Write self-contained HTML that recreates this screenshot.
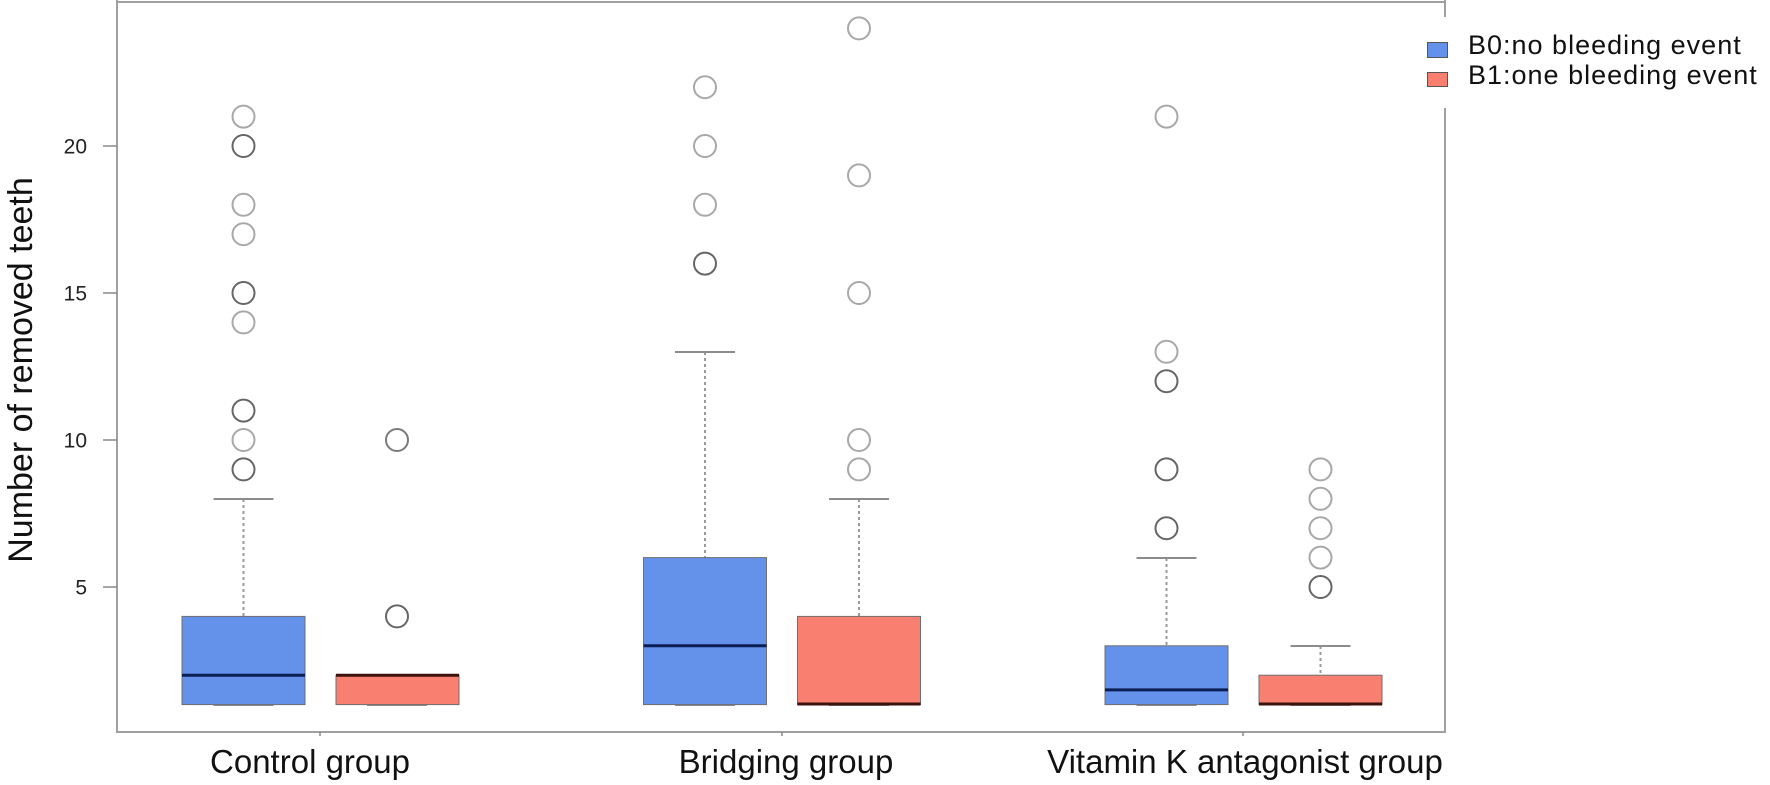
<!DOCTYPE html>
<html>
<head>
<meta charset="utf-8">
<style>
  html,body{margin:0;padding:0;background:#fff;}
  svg{display:block;}
  text{font-family:"Liberation Sans",Arial,sans-serif;}
</style>
</head>
<body>
<svg width="1770" height="785" viewBox="0 0 1770 785" xmlns="http://www.w3.org/2000/svg">
  <rect x="0" y="0" width="1770" height="785" fill="#fff"/>

  <!-- frame -->
  <g stroke="#a0a0a0" stroke-width="2" fill="none">
    <line x1="117" y1="0" x2="117" y2="733"/>
    <line x1="117" y1="2" x2="1445" y2="2"/>
    <line x1="1445" y1="0" x2="1445" y2="733"/>
    <line x1="117" y1="732" x2="1445" y2="732"/>
  </g>
  <!-- x ticks -->
  <g stroke="#888" stroke-width="1.5">
    <line x1="320" y1="732" x2="320" y2="736"/>
    <line x1="782" y1="732" x2="782" y2="736"/>
    <line x1="1243" y1="732" x2="1243" y2="736"/>
  </g>
  <!-- y ticks -->
  <g stroke="#888" stroke-width="1.5">
    <line x1="103" y1="146" x2="117" y2="146"/>
    <line x1="103" y1="293" x2="117" y2="293"/>
    <line x1="103" y1="440" x2="117" y2="440"/>
    <line x1="103" y1="587" x2="117" y2="587"/>
  </g>
  <g font-size="21" fill="#222" text-anchor="end">
    <text x="87" y="153.5">20</text>
    <text x="87" y="300.5">15</text>
    <text x="87" y="447.5">10</text>
    <text x="87" y="594.5">5</text>
  </g>

  <!-- y title -->
  <text transform="translate(32,370) rotate(-90)" text-anchor="middle" font-size="34" fill="#111">Number of removed teeth</text>

  <!-- x labels -->
  <g font-size="33" fill="#111" text-anchor="middle">
    <text x="310" y="773">Control group</text>
    <text x="786" y="773">Bridging group</text>
    <text x="1245" y="773">Vitamin K antagonist group</text>
  </g>

  <!-- whiskers (dotted) -->
  <g stroke="#9a9a9a" stroke-width="2" stroke-dasharray="3,3">
    <line x1="243.5" y1="499" x2="243.5" y2="616"/>
    <line x1="705" y1="352" x2="705" y2="558"/>
    <line x1="859" y1="499" x2="859" y2="616"/>
    <line x1="1166.5" y1="558" x2="1166.5" y2="646"/>
    <line x1="1320.5" y1="646" x2="1320.5" y2="675"/>
  </g>
  <!-- whisker caps -->
  <g stroke="#8c8c8c" stroke-width="2">
    <line x1="213.5" y1="499" x2="273.5" y2="499"/>
    <line x1="675" y1="352" x2="735" y2="352"/>
    <line x1="829" y1="499" x2="889" y2="499"/>
    <line x1="1136.5" y1="558" x2="1196.5" y2="558"/>
    <line x1="1290.5" y1="646" x2="1350.5" y2="646"/>
    <!-- lower caps at 1 -->
    <line x1="213.5" y1="705" x2="273.5" y2="705"/>
    <line x1="367" y1="705" x2="427" y2="705"/>
    <line x1="675" y1="705" x2="735" y2="705"/>
    <line x1="829" y1="705" x2="889" y2="705"/>
    <line x1="1136.5" y1="705" x2="1196.5" y2="705"/>
    <line x1="1290.5" y1="705" x2="1350.5" y2="705"/>
  </g>

  <!-- boxes -->
  <g stroke="#6f6f6f" stroke-width="1">
    <rect x="182" y="616.4" width="123" height="88.2" fill="#6492ea"/>
    <rect x="336" y="675.2" width="123" height="29.4" fill="#f98070"/>
    <rect x="643.5" y="557.6" width="123" height="147" fill="#6492ea"/>
    <rect x="797.5" y="616.4" width="123" height="88.2" fill="#f98070"/>
    <rect x="1105" y="645.8" width="123" height="58.8" fill="#6492ea"/>
    <rect x="1259" y="675.2" width="123" height="29.4" fill="#f98070"/>
  </g>
  <!-- medians -->
  <g stroke-width="3">
    <line x1="182" y1="675.2" x2="305" y2="675.2" stroke="#0c1f55"/>
    <line x1="336" y1="675.2" x2="459" y2="675.2" stroke="#3b120c"/>
    <line x1="643.5" y1="645.8" x2="766.5" y2="645.8" stroke="#0c1f55"/>
    <line x1="797.5" y1="704" x2="920.5" y2="704" stroke="#3b120c"/>
    <line x1="1105" y1="689.9" x2="1228" y2="689.9" stroke="#0c1f55"/>
    <line x1="1259" y1="704" x2="1382" y2="704" stroke="#3b120c"/>
  </g>

  <!-- outliers light -->
  <g fill="none" stroke="#a8a8a8" stroke-width="2">
    <circle cx="243.5" cy="116.6" r="11"/>
    <circle cx="243.5" cy="204.8" r="11"/>
    <circle cx="243.5" cy="234.2" r="11"/>
    <circle cx="243.5" cy="322.4" r="11"/>
    <circle cx="243.5" cy="440" r="11"/>
    <circle cx="705" cy="87.2" r="11"/>
    <circle cx="705" cy="146" r="11"/>
    <circle cx="705" cy="204.8" r="11"/>
    <circle cx="859" cy="28.4" r="11"/>
    <circle cx="859" cy="175.4" r="11"/>
    <circle cx="859" cy="293" r="11"/>
    <circle cx="859" cy="440" r="11"/>
    <circle cx="859" cy="469.4" r="11"/>
    <circle cx="1166.5" cy="116.6" r="11"/>
    <circle cx="1166.5" cy="351.8" r="11"/>
    <circle cx="1320.5" cy="469.4" r="11"/>
    <circle cx="1320.5" cy="498.8" r="11"/>
    <circle cx="1320.5" cy="528.2" r="11"/>
    <circle cx="1320.5" cy="557.6" r="11"/>
  </g>
  <!-- outliers dark -->
  <g fill="none" stroke="#666" stroke-width="2">
    <circle cx="243.5" cy="146" r="11"/>
    <circle cx="243.5" cy="293" r="11"/>
    <circle cx="243.5" cy="410.6" r="11"/>
    <circle cx="243.5" cy="469.4" r="11"/>
    <circle cx="397" cy="440" r="11" stroke="#7a7a7a"/>
    <circle cx="397" cy="616.4" r="11"/>
    <circle cx="705" cy="263.6" r="11"/>
    <circle cx="1166.5" cy="381.2" r="11"/>
    <circle cx="1166.5" cy="469.4" r="11"/>
    <circle cx="1166.5" cy="528.2" r="11"/>
    <circle cx="1320.5" cy="587" r="11"/>
  </g>

  <!-- legend -->
  <rect x="1418" y="17" width="352" height="91" fill="#fff"/>
  <rect x="1427.5" y="42.5" width="20" height="15" fill="#6492ea" stroke="#555" stroke-width="1"/>
  <rect x="1427.5" y="72.5" width="20" height="14" fill="#f98070" stroke="#555" stroke-width="1"/>
  <g font-size="27" fill="#111" letter-spacing="1">
    <text x="1468" y="54">B0:no bleeding event</text>
    <text x="1468" y="84">B1:one bleeding event</text>
  </g>
</svg>
</body>
</html>
